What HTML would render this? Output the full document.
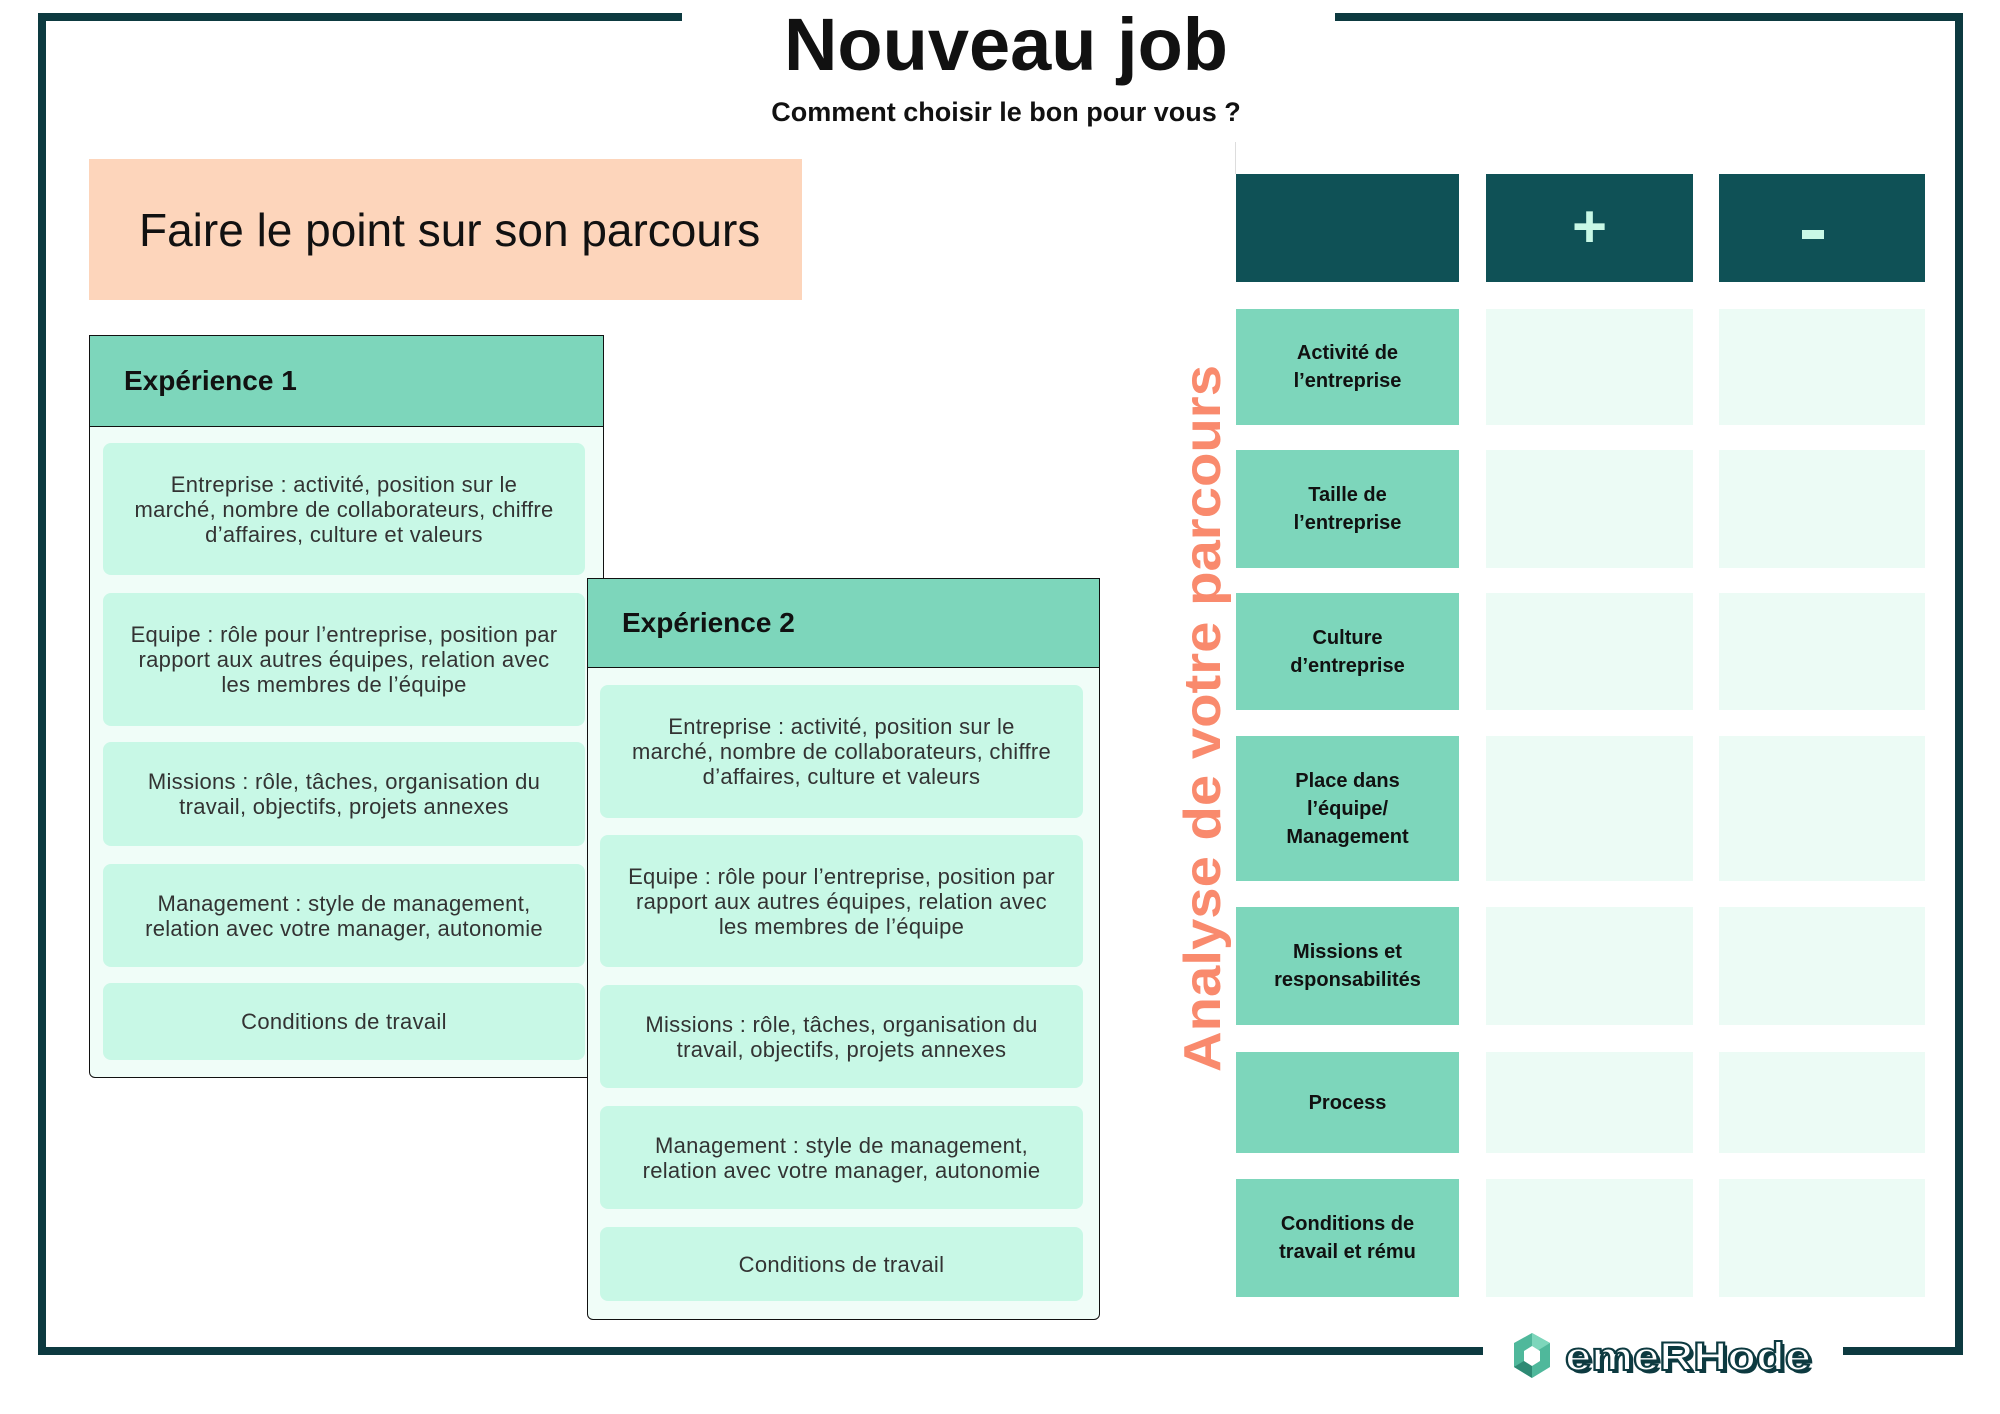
<!DOCTYPE html>
<html><head><meta charset="utf-8"><style>
*{margin:0;padding:0;box-sizing:border-box}
body{width:2000px;height:1414px;background:#fff;position:relative;overflow:hidden;font-family:"Liberation Sans",sans-serif;color:#111}
.a{position:absolute}
.ln{position:absolute;background:#0d3a40}
.box{position:absolute;border:1.5px solid #111;background:#f0fdf8;border-radius:0 0 6px 6px}
.hd{position:absolute;left:0;right:0;top:0;background:#7dd6bb;border-bottom:1.5px solid #111;font-weight:bold;font-size:28px;padding-left:34px;display:flex;align-items:center}
.it{position:absolute;background:#c8f8e6;border-radius:8px;font-size:22px;letter-spacing:0.3px;color:#333;text-align:center;display:flex;align-items:center;justify-content:center;line-height:25px;padding:0 20px}
.c1{position:absolute;left:1236px;width:223px;background:#7dd6bb;font-weight:bold;font-size:20px;line-height:28px;text-align:center;display:flex;align-items:center;justify-content:center}
.c2{position:absolute;left:1486px;width:207px;background:#ecfbf5}
.c3{position:absolute;left:1719px;width:206px;background:#ecfbf5}
</style></head><body>
<div class="ln" style="left:38px;top:13px;width:644px;height:8px"></div>
<div class="ln" style="left:1335px;top:13px;width:628px;height:8px"></div>
<div class="ln" style="left:38px;top:13px;width:8px;height:1342px"></div>
<div class="ln" style="left:1955px;top:13px;width:8px;height:1342px"></div>
<div class="ln" style="left:38px;top:1347px;width:1445px;height:8px"></div>
<div class="ln" style="left:1843px;top:1347px;width:120px;height:8px"></div>

<div class="a" style="left:700px;width:612px;top:2px;text-align:center;font-weight:bold;font-size:74px;line-height:86px">Nouveau job</div>
<div class="a" style="left:700px;width:612px;top:97px;text-align:center;font-weight:bold;font-size:27px">Comment choisir le bon pour vous ?</div>

<div class="a" style="left:89px;top:159px;width:713px;height:141px;background:#fdd5bb;font-size:46px;padding-left:50px;display:flex;align-items:center">Faire le point sur son parcours</div>

<div class="box" style="left:89px;top:335px;width:515px;height:743px">
<div class="hd" style="height:91px">Expérience 1</div></div>
<div class="it" style="left:103px;top:443px;width:482px;height:132px"><span>Entreprise : activité, position sur le<br>marché, nombre de collaborateurs, chiffre<br>d’affaires, culture et valeurs</span></div>
<div class="it" style="left:103px;top:593px;width:482px;height:133px">Equipe : rôle pour l’entreprise, position par rapport aux autres équipes, relation avec les membres de l’équipe</div>
<div class="it" style="left:103px;top:742px;width:482px;height:104px">Missions : rôle, tâches, organisation du travail, objectifs, projets annexes</div>
<div class="it" style="left:103px;top:864px;width:482px;height:103px">Management : style de management, relation avec votre manager, autonomie</div>
<div class="it" style="left:103px;top:983px;width:482px;height:77px">Conditions de travail</div>

<div class="box" style="left:587px;top:578px;width:513px;height:742px">
<div class="hd" style="height:89px">Expérience 2</div></div>
<div class="it" style="left:600px;top:685px;width:483px;height:133px"><span>Entreprise : activité, position sur le<br>marché, nombre de collaborateurs, chiffre<br>d’affaires, culture et valeurs</span></div>
<div class="it" style="left:600px;top:835px;width:483px;height:132px">Equipe : rôle pour l’entreprise, position par rapport aux autres équipes, relation avec les membres de l’équipe</div>
<div class="it" style="left:600px;top:985px;width:483px;height:103px">Missions : rôle, tâches, organisation du travail, objectifs, projets annexes</div>
<div class="it" style="left:600px;top:1106px;width:483px;height:103px">Management : style de management, relation avec votre manager, autonomie</div>
<div class="it" style="left:600px;top:1227px;width:483px;height:74px">Conditions de travail</div>

<svg class="a" style="left:1170px;top:350px" width="70" height="740"><text transform="translate(50,722) rotate(-90)" font-family="Liberation Sans" font-weight="bold" font-size="52" fill="#f98a6d" textLength="707" lengthAdjust="spacingAndGlyphs">Analyse de votre parcours</text></svg>

<div class="a" style="left:1235px;top:142px;width:1px;height:32px;background:#ddd"></div>
<div class="a" style="left:1236px;top:174px;width:223px;height:108px;background:#0f5156"></div>
<div class="a" style="left:1486px;top:174px;width:207px;height:108px;background:#0f5156;color:#c8f8e6;font-size:60px;font-weight:bold;text-align:center;line-height:106px">+</div>
<div class="a" style="left:1719px;top:174px;width:206px;height:108px;background:#0f5156"><div class="a" style="left:83px;top:56px;width:22px;height:9px;background:#c8f8e6"></div></div>

<div class="c1" style="top:309px;height:116px">Activité de<br>l’entreprise</div><div class="c2" style="top:309px;height:116px"></div><div class="c3" style="top:309px;height:116px"></div>
<div class="c1" style="top:450px;height:118px">Taille de<br>l’entreprise</div><div class="c2" style="top:450px;height:118px"></div><div class="c3" style="top:450px;height:118px"></div>
<div class="c1" style="top:593px;height:117px">Culture<br>d’entreprise</div><div class="c2" style="top:593px;height:117px"></div><div class="c3" style="top:593px;height:117px"></div>
<div class="c1" style="top:736px;height:145px">Place dans<br>l’équipe/<br>Management</div><div class="c2" style="top:736px;height:145px"></div><div class="c3" style="top:736px;height:145px"></div>
<div class="c1" style="top:907px;height:118px">Missions et<br>responsabilités</div><div class="c2" style="top:907px;height:118px"></div><div class="c3" style="top:907px;height:118px"></div>
<div class="c1" style="top:1052px;height:101px">Process</div><div class="c2" style="top:1052px;height:101px"></div><div class="c3" style="top:1052px;height:101px"></div>
<div class="c1" style="top:1179px;height:118px">Conditions de<br>travail et rému</div><div class="c2" style="top:1179px;height:118px"></div><div class="c3" style="top:1179px;height:118px"></div>

<svg class="a" style="left:1510px;top:1330px" width="310" height="54">
<polygon points="22,3 40,13 40,37 22,48 4,37 4,13" fill="#4fb89b"/>
<polygon points="22,3 40,13 22,24" fill="#7dd6bb"/><polygon points="4,37 22,48 22,26" fill="#2e8a74"/>
<polygon points="22,16 30,21 30,31 22,36 14,31 14,21" fill="#fff"/>
<text x="58" y="43" font-family="Liberation Sans" font-weight="bold" font-size="40" fill="#0d3a40" textLength="246" lengthAdjust="spacingAndGlyphs">emeRHode</text>
<text x="55" y="40" font-family="Liberation Sans" font-weight="bold" font-size="40" fill="#fff" stroke="#0d3a40" stroke-width="2" textLength="246" lengthAdjust="spacingAndGlyphs">emeRHode</text>
</svg>
</body></html>
